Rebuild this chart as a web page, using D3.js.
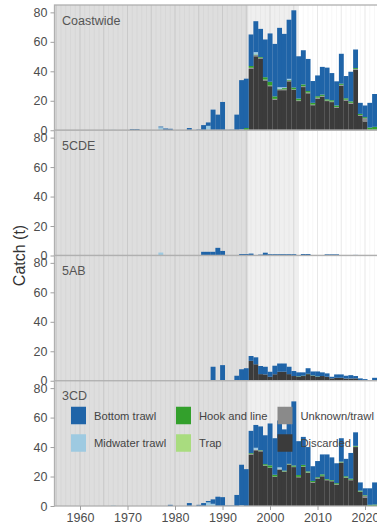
<!DOCTYPE html>
<html><head><meta charset="utf-8">
<script src="https://cdn.jsdelivr.net/npm/d3@7"></script>
<style>html,body{margin:0;padding:0;background:#fff;overflow:hidden}text{font-family:"Liberation Sans",Arial,sans-serif}</style>
</head><body><svg id="chart" width="377" height="525"></svg>
<script>
// Years 1966..2022
const years = [1966,1967,1968,1969,1970,1971,1972,1973,1974,1975,
  1976,1977,1978,1979,1980,1981,1982,1983,1984,1985,
  1986,1987,1988,1989,1990,1991,1992,1993,1994,1995,
  1996,1997,1998,1999,2000,2001,2002,2003,2004,2005,
  2006,2007,2008,2009,2010,2011,2012,2013,2014,2015,
  2016,2017,2018,2019,2020,2021,2022];
const panels = ["Coastwide","5CDE","5AB","3CD"];
const gears = ["Bottom trawl","Midwater trawl","Hook and line","Trap","Unknown/trawl","Discarded"];
const gearColors = ["#1f64a8","#9ecae1","#33a02c","#a9dc7f","#8a8a8a","#3b3b3b"];
const yTicks = [0,20,40,60,80];
const xTicks = [1960,1970,1980,1990,2000,2010,2020];

// ---- Coastwide ----
const cwBottom = [0,0,0,0,0,0.8,0.8,0,0,0, 0,0.5,1.2,1,0,0,0,1.5,0,0.5,
  3.5,2.3,14,10.6,19.2,0.3,0.2,10.6,33.5,33.5, 21.4,21,19.1,25.6,32.8,35.6,40.3,36.2,40.1,52.4,
  28.7,23.2,21.8,14.8,14.1,18.8,21.5,18.4,16.4,20.3, 15.1,20.1,12.6,7.5,7.9,16.8,22.3];
const cwMidwater = [0,0.3,0,0,0,0,0,0,0,0, 0,2,0,0,0,0,0,0,0,0,
  0,3,0,0,0,0,0.3,0,0.5,0, 0,1.6,0,0,0,0,1.2,0.6,0.8,0,
  0,0,0,0,0,0,0,0,0,0, 0,0,0,0,0,0,0];
const cwHook = [0,0,0,0,0,0,0,0,0,0, 0,0,0,0,0,0,0,0,0,0,
  0,0,0,0,0,0,0,0,0,1.5, 1.2,0.4,0.5,1.6,2.5,1.7,0.3,0.8,0.4,1.2,
  1.2,1.2,1,1.2,1,0.9,0.8,0.9,1,0.8, 1,1,0.6,0.8,0.7,1.5,2];
const cwTrap = [0,0,0,0,0,0,0,0,0,0, 0,0,0,0,0,0,0,0,0,0,
  0,0,0,0,0,0,0,0,0,0, 0,0,0,0,0,0,0,0,0,0,
  0,0,0,0,0,0,0,0,0,0, 0,0,0,0,0,0,0];
const cwUnknown = [0,0,0,0,0,0,0,0,0,0, 0,0,0,0,0,0,0,0,0,0,
  0,0,0,0,0,0,0,0,0,0, 0.8,0.8,0.8,0.6,0.5,0.5,0.5,0.6,0.5,0.4,
  0.5,0.6,0.5,0.4,0.6,0.5,0.4,0.4,0.4,0.6, 0.5,0.6,0.4,0.4,2.2,0.3,0.3];
const cwDiscarded = [0,0,0,0,0,0,0,0,0,0, 0,0,0,0,0,0,0,0,0,0,
  0,0,0,0,0,0,0,0,0,0, 41.6,50.2,48.4,33.8,29.9,20.8,27.2,27.2,33.2,27.4,
  19.8,29.3,25.1,17,21.5,22.8,19.8,19.1,15.4,30.2, 20.2,18,41.2,9.9,6,0,0];

// ---- 5CDE ----
const cdeBottom = [0,0,0,0,0,0,0,0,0,0, 0,0,0,0,0,0,0,0,0,0,
  2.5,2.5,2.5,5.2,3.1,0,0,0,1,1, 1,0,0.6,1.9,0.9,0.9,0.9,0.9,0.9,0.9,
  0.3,1,1,0.2,0.2,0.2,0.8,0.8,0.8,0, 0,0.3,0.4,0,0,0,0];
const cdeMidwater = [0,0,0,0,0,0,0,0,0,0, 0,2,0,0,0,0,0,0,0,0,
  0,0,0,0,0,0,0,0,0,0, 0,0,0,0,0,0,0,0,0,0,
  0,0,0,0,0,0,0,0,0,0, 0,0,0,0,0,0,0];
const cdeHook = [0,0,0,0,0,0,0,0,0,0, 0,0,0,0,0,0,0,0,0,0,
  0,0,0,0,0,0,0,0,0,0, 0.3,0,0,0,0,0,0,0,0,0,
  0,0,0,0,0,0,0,0,0,0, 0,0,0,0,0,0,0];
const cdeTrap = [0,0,0,0,0,0,0,0,0,0, 0,0,0,0,0,0,0,0,0,0,
  0,0,0,0,0,0,0,0,0,0, 0,0,0,0,0,0,0,0,0,0,
  0,0,0,0,0,0,0,0,0,0, 0,0,0,0,0,0,0];
const cdeUnknown = [0,0,0,0,0,0,0,0,0,0, 0,0,0,0,0,0,0,0,0,0,
  0,0,0,0,0,0,0,0,0,0, 0,0,0,0,0,0,0,0,0,0,
  0,0,0,0,0,0,0,0,0,0, 0,0,0,0,0,0,0];
const cdeDiscarded = [0,0,0,0,0,0,0,0,0,0, 0,0,0,0,0,0,0,0,0,0,
  0,0,0,0,0,0,0,0,0,0, 0,0,0,0,0,0,0,0,0,0,
  0,0,0,0,0,0,0,0,0,0, 0,0,0,0,0,0,0];

// ---- 5AB ----
const abBottom = [0,0,0,0,0,0,0,0,0,0, 0,0,0,0,0,0,0,0,0,0,
  0,0,9.5,0,10.6,0,0,3.4,7.8,8.5, 3.3,4.7,5.5,5.2,3.4,5.8,5.6,5.6,5,3.4,
  2.7,2.3,3.8,2.7,3.4,2.5,2.3,1.1,2.3,2.3, 1.9,2.3,1.6,1.6,1.1,0.5,2];
const abMidwater = [0,0,0,0,0,0,0,0,0,0, 0,0,0,0,0,0,0,0,0,0,
  0,0,0,0,0,0,0,0,0,0, 0,0,0,0,0,0,0,0,0,0,
  0,0,0,0,0,0,0,0,0,0, 0,0,0,0,0,0,0];
const abHook = [0,0,0,0,0,0,0,0,0,0, 0,0,0,0,0,0,0,0,0,0,
  0,0,0,0,0,0,0,0,0,0, 0,0,0,0,0,0,0,0,0,0,
  0.2,0.2,0.2,0.2,0.2,0,0,0,0,0, 0,0,0,0,0,0,0];
const abTrap = [0,0,0,0,0,0,0,0,0,0, 0,0,0,0,0,0,0,0,0,0,
  0,0,0,0,0,0,0,0,0,0, 0,0,0,0,0,0,0,0,0,0,
  0,0,0,0,0,0,0,0,0,0, 0,0,0,0,0,0,0];
const abUnknown = [0,0,0,0,0,0,0,0,0,0, 0,0,0,0,0,0,0,0,0,0,
  0,0,0,0,0,0,0,0,0,0, 0,0,0,0,0,0,0,0,0,0,
  0,0,0,0,0,0,0,0,0,0, 0,0,0,0,0,0,0];
const abDiscarded = [0,0,0,0,0,0,0,0,0,0, 0,0,0,0,0,0,0,0,0,0,
  0,0,0,0,0,0,0,0,0,0, 13.5,11.2,4.5,4.3,2.7,4.4,6.1,6.1,4.5,3.2,
  2.8,3.2,4.5,3.4,2.7,3.2,2.7,1.6,2,2, 1.5,1.5,1.6,0,0,0,0];

// ---- 3CD ----
const cdBottom = [0,0,0,0,0,0,0,0,0,0, 0,0,0,0.8,0,0,0,2,0,0.8,
  2,0.9,3,6.3,6,0.3,0.3,7.5,27.5,25, 15.1,15.5,16.1,19.6,28.4,24.8,31.8,28,34.4,43.5,
  23,19,16.5,10,11,13.5,16.7,15.4,13.5,15.9, 11.8,17.5,9.2,5.6,4.6,11.2,15];
const cdMidwater = [0,0.4,0,0,0,0,0,0,0,0, 0,0,0,0,0,0,0,0,0,0,
  0,2.5,1.5,0,0,0,0.2,0,0.5,0, 0,1.2,0,0,0,0,1.2,0,0,0,
  0,0,0,0,0,0,0,0,0,0, 0,0,0,0,0,0,0];
const cdHook = [0,0,0,0,0,0,0,0,0,0, 0,0,0,0,0,0,0,0,0,0,
  0,0,0,0,0,0,0,0,0,0, 0.5,0,0.3,0.8,1.5,1.2,0,0.5,0.3,0.8,
  1.2,1.1,0.7,0.8,0.6,1,0.5,0.5,0.7,0.5, 0.8,0.7,0.5,0.6,0.4,0.8,1];
const cdTrap = [0,0,0,0,0,0,0,0,0,0, 0,0,0,0,0,0,0,0,0,0,
  0,0,0,0,0,0,0,0,0,0, 0,0,0,0,0,0,0,0,0,0,
  0,0,0,0,0,0,0,0,0,0, 0,0,0,0,0,0,0];
const cdUnknown = [0,0,0,0,0,0,0,0,0,0, 0,0,0,0,0,0,0,0,0,0,
  0,0,0,0,0,0,0,0,0,0, 0.5,0.5,0.5,0.4,0.3,0.3,0.3,0.4,0.3,0.3,
  0.3,0.3,0.3,0.3,0.3,0.3,0.3,0.3,0.3,0.3, 0.3,0.3,0.3,0.3,1.5,0,0];
const cdDiscarded = [0,0,0,0,0,0,0,0,0,0, 0,0,0,0,0,0,0,0,0,0,
  0,0,0,0,0,0,0,0,0,0, 34.9,37.8,37.1,27.2,25.8,19.7,24.7,23.1,28,26.4,
  19.5,26.5,22.5,15.9,18.6,20.2,17.5,16.8,14.5,29.3, 19.1,17.5,40,9.5,5.5,0,0];

const panelSeries = [
  [cwBottom, cwMidwater, cwHook, cwTrap, cwUnknown, cwDiscarded],
  [cdeBottom, cdeMidwater, cdeHook, cdeTrap, cdeUnknown, cdeDiscarded],
  [abBottom, abMidwater, abHook, abTrap, abUnknown, abDiscarded],
  [cdBottom, cdMidwater, cdHook, cdTrap, cdUnknown, cdDiscarded]
];

const svg = d3.select("#chart");
const L = 54.5, R = 395, T = 5, B = 506, PH = (B - T) / 4;
const x = d3.scaleLinear().domain([1960, 2020]).range([80, 365]);
const colorOf = d3.scaleOrdinal().domain(gears).range(gearColors);
const stackKeys = gears.slice().reverse(); // Discarded at bottom

svg.append("defs").append("clipPath").attr("id", "clipAll")
  .append("rect").attr("x", L).attr("y", T).attr("width", R - L).attr("height", B - T);

const allYears = d3.range(1950, 2030);

panels.forEach((name, p) => {
  const top = T + p * PH, bot = top + PH;
  const y = d3.scaleLinear().domain([0, 85]).range([bot, top]);
  const g = svg.append("g").attr("clip-path", "url(#clipAll)");
  g.append("rect").attr("x", L).attr("y", top).attr("width", R - L).attr("height", PH).attr("fill", "#ffffff");
  g.append("rect").attr("x", L).attr("y", top).attr("width", x(1995.5) - L).attr("height", PH).attr("fill", "#dedede");
  g.append("rect").attr("x", x(1995.5)).attr("y", top).attr("width", x(2006) - x(1995.5)).attr("height", PH).attr("fill", "#efefef");
  g.selectAll("line.minor").data(allYears).join("line")
    .attr("x1", d => x(d)).attr("x2", d => x(d)).attr("y1", top).attr("y2", bot)
    .attr("stroke", "rgba(0,0,0,0.03)").attr("stroke-width", 1);
  g.selectAll("line.major").data(allYears.filter(d => d % 5 === 0)).join("line")
    .attr("x1", d => x(d)).attr("x2", d => x(d)).attr("y1", top).attr("y2", bot)
    .attr("stroke", "rgba(0,0,0,0.06)").attr("stroke-width", 1.1);

  const series = panelSeries[p];
  const table = years.map((yr, i) => {
    const row = { year: yr };
    gears.forEach((gname, k) => row[gname] = series[k][i]);
    return row;
  });
  const stacked = d3.stack().keys(stackKeys)(table);
  stacked.forEach(layer => {
    g.append("g").attr("fill", colorOf(layer.key))
      .selectAll("rect").data(layer.filter(d => d[1] - d[0] > 0)).join("rect")
      .attr("x", d => x(d.data.year - 0.5))
      .attr("width", d => x(d.data.year + 0.5) - x(d.data.year - 0.5) + 0.15)
      .attr("y", d => y(d[1]))
      .attr("height", d => y(d[0]) - y(d[1]));
  });

  g.append("text").attr("x", 62).attr("y", top + 19.5)
    .attr("font-size", 12.5).attr("fill", "#555").text(name);

  // panel border
  svg.append("rect").attr("x", L).attr("y", top).attr("width", R - L).attr("height", PH)
    .attr("fill", "none").attr("stroke", "#b0b0b0").attr("stroke-width", 1.3);

  // y axis
  const ya = svg.append("g").attr("transform", `translate(${L},0)`)
    .call(d3.axisLeft(y).tickValues(yTicks).tickSize(4).tickPadding(3));
  ya.select(".domain").remove();
  ya.selectAll(".tick line").attr("stroke", "#a0a0a0");
  ya.selectAll(".tick text").attr("font-size", 12.5).attr("fill", "#4d4d4d")
    .attr("font-family", "Liberation Sans, Arial, sans-serif");

  if (p === 3) {
    // legend
    const lg = svg.append("g");
    const cols = [71, 176, 277.5];
    gears.forEach((gname, k) => {
      const cx = cols[Math.floor(k / 2)];
      const cy = top + 26 + (k % 2) * 27.5;
      lg.append("rect").attr("x", cx).attr("y", cy).attr("width", 15).attr("height", 17.5)
        .attr("fill", colorOf(gname));
      lg.append("text").attr("x", cx + 23).attr("y", cy + 13)
        .attr("font-size", 11.2).attr("fill", "#444").text(gname);
    });
  }
});

// x axis
const xa = svg.append("g").attr("transform", `translate(0,${B})`)
  .call(d3.axisBottom(x).tickValues(xTicks).tickFormat(d3.format("d")).tickSize(4).tickPadding(3));
xa.select(".domain").remove();
xa.selectAll(".tick line").attr("stroke", "#a0a0a0");
xa.selectAll(".tick text").attr("font-size", 12.5).attr("fill", "#4d4d4d")
  .attr("font-family", "Liberation Sans, Arial, sans-serif");

svg.append("text").attr("transform", `translate(25,${(T + B) / 2}) rotate(-90)`)
  .attr("text-anchor", "middle").attr("font-size", 16).attr("fill", "#333").text("Catch (t)");
</script>
</body></html>
